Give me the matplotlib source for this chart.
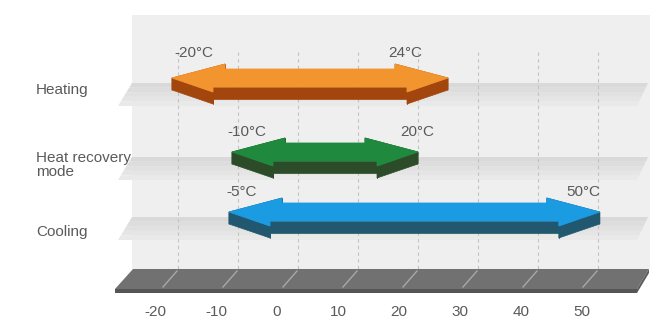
import numpy as np
import matplotlib.pyplot as plt
from matplotlib.patches import Polygon, Rectangle

# data
categories = ["Heating", "Heat recovery\nmode", "Cooling"]
range_low = [-20, -10, -5]
range_high = [24, 20, 50]
# where the arrow tips sit in the picture (degC on the back wall)
arrow_low = [-21, -11, -11.5]
arrow_high = [25, 20, 50.3]
ticks = [-20, -10, 0, 10, 20, 30, 40, 50]

top_colors = ["#f3952f", "#1f8a3d", "#1a9be2"]
side_colors = ["#a3460e", "#2b4b29", "#22586f"]

# layout (pixels)
W, H = 668, 335
PX = 6.0     # pixels per degree on the back wall
X0 = 298     # pixel column of 0 degC on the back wall
FRONT_X0, FRONT_PX = 277, 6.1   # same scale at the front edge of the floor
row_y = [78, 152, 212]
cat_y = [90, 165, 232]
lab_y = [53, 132, 192]
lab_dx_lo = [22, 15, 13]
lab_dx_hi = [-43, -1, -16]
text_col = "#5a5a5a"
FONT = "Liberation Sans"


def d(p):
    # pixel offset -> degrees
    return p / PX


def xp(p):
    # pixel column -> degrees
    return (p - X0) / PX


def front(t):
    # degC at the front edge of the floor -> wall degrees
    return xp(FRONT_X0) + t * FRONT_PX / PX


fig = plt.figure(figsize=(W / 100, H / 100), dpi=100)
ax = fig.add_axes([0, 0, 1, 1])
ax.set_xlim(xp(0), xp(W))
ax.set_ylim(H, 0)
ax.axis("off")

# back wall
ax.add_patch(Rectangle((xp(132), 15), d(518), 254, color="#efefef", lw=0, zorder=0))

# shelves under each arrow
shades = ["#d9d9d9", "#dddddd", "#e1e1e1", "#e5e5e5", "#e9e9e9"]
for y in row_y:
    top, depth = y + 5, 23
    for i, c in enumerate(shades):
        f1, f2 = i / len(shades), (i + 1) / len(shades)
        y1, y2 = top + f1 * depth, top + f2 * depth
        pts = [(xp(132 - 14 * f1), y1), (xp(648 - 11 * f1), y1),
               (xp(648 - 11 * f2), y2), (xp(132 - 14 * f2), y2)]
        ax.add_patch(Polygon(pts, closed=True, color=c, lw=0, zorder=1))

# dashed grid on the wall
for t in ticks:
    ax.plot([t, t], [52, 269], color="#c2c2c2", lw=0.8, ls=(0, (3, 3)), zorder=2)

# floor slab
ax.add_patch(Polygon([(xp(133), 269), (xp(649), 269), (xp(637), 289), (xp(115), 289)],
                     closed=True, color="#717171", lw=0, zorder=2))
ax.add_patch(Polygon([(xp(115), 289), (xp(637), 289), (xp(637), 293), (xp(115), 293)],
                     closed=True, color="#555555", lw=0, zorder=2))
ax.add_patch(Polygon([(xp(649), 269), (xp(649), 273), (xp(637), 293), (xp(637), 289)],
                     closed=True, color="#5c5c5c", lw=0, zorder=2))
for t in ticks:
    ax.plot([t - d(1), t - d(15)], [271, 287], color="#a8a8a8", lw=1, zorder=3)
    ax.text(front(t), 312, str(t), ha="center", va="center",
            fontsize=11, color=text_col, family=FONT)


def arrow3d(lo, hi, y0, top, side, z):
    Lb, Lf = d(53), d(41)          # back / front barb distance from the tip
    ws, wh, h = 9, 14, 12
    shape = [(lo, 0), (lo + Lb, wh), (lo + Lb, ws), (hi - Lb, ws), (hi - Lb, wh),
             (hi, 0), (hi - Lf, -wh), (hi - Lf, -ws), (lo + Lf, -ws), (lo + Lf, -wh)]
    P = np.array([(u, y0 - w) for u, w in shape])
    n = len(P)
    for i in range(n):
        a, b = P[i], P[(i + 1) % n]
        quad = [a, b, b + [0, h], a + [0, h]]
        ax.add_patch(Polygon(quad, closed=True, facecolor=side, edgecolor=side,
                             lw=0.5, zorder=z))
    ax.add_patch(Polygon(P, closed=True, facecolor=top, edgecolor=top,
                         lw=0.6, zorder=z + 0.5))


for i in range(len(categories)):
    arrow3d(arrow_low[i], arrow_high[i], row_y[i], top_colors[i], side_colors[i], 4 + i)
    ax.text(arrow_low[i] + d(lab_dx_lo[i]), lab_y[i], f"{range_low[i]}°C", ha="center",
            va="center", fontsize=11, color=text_col, family=FONT, zorder=10)
    ax.text(arrow_high[i] + d(lab_dx_hi[i]), lab_y[i], f"{range_high[i]}°C", ha="center",
            va="center", fontsize=11, color=text_col, family=FONT, zorder=10)
    ax.text(xp(36), cat_y[i], categories[i], ha="left", va="center", fontsize=11,
            color=text_col, family=FONT, linespacing=0.95)

plt.savefig("out.png", dpi=100)
